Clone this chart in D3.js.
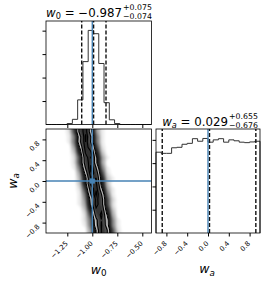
<!DOCTYPE html>
<html>
<head>
<meta charset="utf-8">
<script src="https://cdn.jsdelivr.net/npm/d3@7"></script>
<style>
  body { margin: 0; background: #fff; }
  svg { display: block; font-family: "DejaVu Sans", sans-serif; }
</style>
</head>
<body>
<svg id="chart" width="266" height="281"></svg>
<script>
// parameter ranges (sample extents)
const w0Range = [-1.463, -0.408];
const waRange = [-1.0, 1.0];

// 1D histograms, 20 bins each
const w0Counts = [0, 0, 0, 0, 20, 110, 525, 1340, 2005, 1935, 1300, 465, 100, 20, 0, 0, 0, 0, 0, 0];
const waCounts = [347, 342, 342, 366, 368, 381, 385, 405, 394, 406, 390, 400, 405, 390, 400, 396, 390, 388, 391, 394];
const w0HistTicks = [500, 1000, 1500, 2000];
const waHistTicks = [100, 200, 300, 400];

// 2D histogram: rows are wa bins from -1 upward, columns are w0 bins
const hist2d = [
  [0,0,0,0,0,0,0,0,9,61,141,107,26,2,0,0,0,0,0,0],
  [0,0,0,0,0,0,0,1,15,82,144,82,15,1,0,0,0,0,0,0],
  [0,0,0,0,0,0,0,2,17,86,140,80,14,1,0,0,0,0,0,0],
  [0,0,0,0,0,0,0,2,28,113,149,65,9,0,0,0,0,0,0,0],
  [0,0,0,0,0,0,0,5,44,135,135,44,5,0,0,0,0,0,0,0],
  [0,0,0,0,0,0,1,9,67,155,117,29,2,0,0,0,0,0,0,0],
  [0,0,0,0,0,0,1,12,72,152,118,27,3,0,0,0,0,0,0,0],
  [0,0,0,0,0,0,1,18,98,171,98,18,1,0,0,0,0,0,0,0],
  [0,0,0,0,0,0,2,30,121,160,70,10,1,0,0,0,0,0,0,0],
  [0,0,0,0,0,0,5,49,149,149,49,5,0,0,0,0,0,0,0,0],
  [0,0,0,0,0,0,6,50,140,141,47,5,1,0,0,0,0,0,0,0],
  [0,0,0,0,0,0,10,71,163,123,30,2,0,0,0,0,0,0,0,0],
  [0,0,0,0,0,1,18,98,171,98,18,1,0,0,0,0,0,0,0,0],
  [0,0,0,0,0,2,30,120,159,69,10,0,0,0,0,0,0,0,0,0],
  [0,0,0,0,0,2,28,125,165,68,11,1,0,0,0,0,0,0,0,0],
  [0,0,0,0,0,5,48,145,145,48,5,0,0,0,0,0,0,0,0,0],
  [0,0,0,0,0,10,69,159,120,30,2,0,0,0,0,0,0,0,0,0],
  [0,0,0,0,1,18,94,164,94,18,1,0,0,0,0,0,0,0,0,0],
  [0,0,0,0,1,16,90,168,97,18,1,0,0,0,0,0,0,0,0,0],
  [0,0,0,0,2,30,121,160,70,10,1,0,0,0,0,0,0,0,0,0]
];

// credible levels for the 2D contours (0.5, 1, 1.5, 2 sigma)
const levels = [0.118, 0.393, 0.675, 0.865];

const w0Quantiles = [-1.106, -0.987, -0.863];
const waQuantiles = [-0.88, 0.029, 0.92];
const truths = [-1.0, 0.0];

const w0Ticks = [-1.25, -1.0, -0.75, -0.5];
const waTicks = [-0.8, -0.4, 0.0, 0.4, 0.8];

const titleMedian = ["\u22120.987", "0.029"];
const titlePlus = ["+0.075", "+0.655"];
const titleMinus = ["\u22120.074", "\u22120.676"];

const truthColor = "#4682b4";
const tickFont = 6.8;

const svg = d3.select("#chart");

const x0 = d3.scaleLinear().domain(w0Range).range([46, 151.5]);
const xa = d3.scaleLinear().domain(waRange).range([156, 260]);
const ya = d3.scaleLinear().domain(waRange).range([233, 129]);
const yTop = d3.scaleLinear().domain([0, 1.1 * d3.max(w0Counts)]).range([124.5, 21]);
const yRight = d3.scaleLinear().domain([0, 1.1 * d3.max(waCounts)]).range([233, 129]);

const nb = w0Counts.length;
const w0Edges = d3.range(nb + 1).map(i => w0Range[0] + i * (w0Range[1] - w0Range[0]) / nb);
const waEdges = d3.range(nb + 1).map(i => waRange[0] + i * (waRange[1] - waRange[0]) / nb);

function stepPoints(edges, counts) {
    const n = counts.length;
    return [[edges[0], 0], ...counts.map((c, i) => [edges[i], c]), [edges[n], counts[n - 1]], [edges[n], 0]];
}

function drawHist(xs, ys, edges, counts, quantiles, truth, ticks) {
    const g = svg.append("g");
    const line = d3.line().x(d => xs(d[0])).y(d => ys(d[1])).curve(d3.curveStepAfter);
    g.append("path")
        .attr("d", line(stepPoints(edges, counts)))
        .attr("fill", "none")
        .attr("stroke", "#333")
        .attr("stroke-width", 1);

    g.selectAll(".q")
        .data(quantiles)
        .enter().append("line")
        .attr("x1", d => xs(d)).attr("x2", d => xs(d))
        .attr("y1", ys.range()[0]).attr("y2", ys.range()[1])
        .attr("stroke", "#111")
        .attr("stroke-width", 1.4)
        .attr("stroke-dasharray", "4,2");

    g.append("line")
        .attr("x1", xs(truth)).attr("x2", xs(truth))
        .attr("y1", ys.range()[0]).attr("y2", ys.range()[1])
        .attr("stroke", truthColor)
        .attr("stroke-width", 1.4);

    const yAx = g.append("g")
        .attr("transform", `translate(${xs.range()[0]},0)`)
        .call(d3.axisLeft(ys).tickValues(ticks).tickSize(3.5).tickFormat(""));
    yAx.select(".domain").remove();
}

// top-left: w0 marginal
drawHist(x0, yTop, w0Edges, w0Counts, w0Quantiles, truths[0], w0HistTicks);
const topX = svg.append("g")
    .attr("transform", "translate(0,124.5)")
    .call(d3.axisBottom(x0).tickValues(w0Ticks).tickSize(3.5).tickFormat(""));
topX.select(".domain").remove();

// bottom-right: wa marginal
drawHist(xa, yRight, waEdges, waCounts, waQuantiles, truths[1], waHistTicks);

// bottom-left: 2D histogram
const defs = svg.append("defs");
defs.append("clipPath").attr("id", "clip2d")
    .append("rect").attr("x", 46).attr("y", 129).attr("width", 105.5).attr("height", 104);
defs.append("filter").attr("id", "soft")
    .append("feGaussianBlur").attr("stdDeviation", 0.9);

const g2 = svg.append("g").attr("clip-path", "url(#clip2d)");

const rows = [hist2d[0], ...hist2d, hist2d[hist2d.length - 1]];
const flat = rows.flat();
const bw0 = (w0Range[1] - w0Range[0]) / nb;
const bwa = (waRange[1] - waRange[0]) / nb;
const proj = d3.geoTransform({
    point: function (x, y) {
        this.stream.point(x0(w0Range[0] + x * bw0), ya(waRange[0] + (y - 1) * bwa));
    }
});
const gpath = d3.geoPath(proj);
const contours = d3.contours().size([nb, rows.length]);

// contour levels as in corner
const sorted = hist2d.flat().slice().sort((a, b) => b - a);
const total = d3.sum(sorted);
let cum = 0;
const cumFrac = sorted.map(v => (cum += v) / total);
const V = levels.map(l => {
    let v = sorted[0];
    cumFrac.forEach((c, i) => { if (c <= l) v = sorted[i]; });
    return v;
}).sort((a, b) => a - b);
const Hmax = sorted[0];

// sample cloud
const cloudLevels = [0.4, 1.5, 4, 9, 18, 30];
const cloudAlpha = [0.07, 0.1, 0.17, 0.28, 0.45, 0.65];
const cloud = g2.append("g").attr("filter", "url(#soft)");
cloud.selectAll("path")
    .data(contours.thresholds(cloudLevels)(flat))
    .enter().append("path")
    .attr("d", gpath)
    .attr("fill", "#000")
    .attr("fill-opacity", (d, i) => cloudAlpha[i]);

// white base under outer contour
g2.append("path")
    .attr("d", gpath(contours.thresholds([V[0]])(flat)[0]))
    .attr("fill", "#fff");

// density shading inside the contours
const shadeLevels = d3.range(14).map(i => V[0] + (Hmax - V[0]) * i / 14);
g2.append("g").selectAll("path")
    .data(contours.thresholds(shadeLevels)(flat))
    .enter().append("path")
    .attr("d", gpath)
    .attr("fill", d => {
        const s = (d.value - V[0]) / (Hmax - V[0]);
        const v = Math.round(45 + 210 * Math.pow(1 - s, 3.2));
        return `rgb(${v},${v},${v})`;
    });

// contour lines
g2.selectAll(".cl")
    .data(contours.thresholds(V)(flat))
    .enter().append("path")
    .attr("d", gpath)
    .attr("fill", "none")
    .attr("stroke", "#000")
    .attr("stroke-width", 1.1);

// truths
g2.append("line")
    .attr("x1", x0(truths[0])).attr("x2", x0(truths[0]))
    .attr("y1", 129).attr("y2", 233)
    .attr("stroke", truthColor).attr("stroke-width", 1.4);
g2.append("line")
    .attr("x1", 46).attr("x2", 151.5)
    .attr("y1", ya(truths[1])).attr("y2", ya(truths[1]))
    .attr("stroke", truthColor).attr("stroke-width", 1.4);
g2.append("rect")
    .attr("x", x0(truths[0]) - 2.6).attr("y", ya(truths[1]) - 2.6)
    .attr("width", 5.2).attr("height", 5.2)
    .attr("fill", truthColor);

// frames
[[46, 21, 105.5, 103.5], [46, 129, 105.5, 104], [156, 129, 104, 104]].forEach(f => {
    svg.append("rect")
        .attr("x", f[0]).attr("y", f[1]).attr("width", f[2]).attr("height", f[3])
        .attr("fill", "none").attr("stroke", "#000").attr("stroke-width", 0.8);
});

// labelled axes
function bottomAxis(xs, ticks, fmt) {
    const ax = svg.append("g")
        .attr("transform", "translate(0,233)")
        .call(d3.axisBottom(xs).tickValues(ticks).tickSize(3.5).tickFormat(d3.format(fmt)));
    ax.select(".domain").remove();
    ax.selectAll("text")
        .attr("y", 0).attr("dy", null)
        .attr("transform", "translate(0.5,11) rotate(-45)")
        .style("text-anchor", "end")
        .attr("font-size", tickFont)
        .attr("font-family", "DejaVu Sans")
        .attr("fill", "#000");
}
bottomAxis(x0, w0Ticks, ".2f");
bottomAxis(xa, waTicks, ".1f");

const leftAx = svg.append("g")
    .attr("transform", "translate(46,0)")
    .call(d3.axisLeft(ya).tickValues(waTicks).tickSize(3.5).tickFormat(d3.format(".1f")));
leftAx.select(".domain").remove();
leftAx.selectAll("text")
    .attr("x", 0).attr("dy", null)
    .attr("transform", "translate(-6,4) rotate(-45)")
    .style("text-anchor", "end")
    .attr("font-size", tickFont)
    .attr("font-family", "DejaVu Sans")
    .attr("fill", "#000");

// axis labels
function mathLabel(x, y, sub, rotate, subItalic) {
    const t = svg.append("text")
        .attr("transform", `translate(${x},${y})` + (rotate ? " rotate(-90)" : ""))
        .attr("text-anchor", "middle")
        .attr("font-size", 12.5);
    t.append("tspan").attr("font-style", "italic").text("w");
    t.append("tspan").attr("font-size", 8.8).attr("dy", 2.5)
        .attr("font-style", subItalic ? "italic" : "normal").text(sub);
}
mathLabel(98.75, 273.5, "0", false, false);
mathLabel(207, 273, "a", false, true);
mathLabel(16.5, 181, "a", true, true);

// titles
function title(cx, baseline, sub, subItalic, i) {
    const g = svg.append("g");
    const main = g.append("text").attr("y", baseline).attr("font-size", 11.8);
    main.append("tspan").attr("font-style", "italic").text("w");
    main.append("tspan").attr("font-size", 8.2).attr("dy", 2.5)
        .attr("font-style", subItalic ? "italic" : "normal").text(sub);
    main.append("tspan").attr("dy", -2.5).text(" = " + titleMedian[i]);
    const mw = main.node().getComputedTextLength();
    const sup = g.append("text").attr("y", baseline - 7).attr("font-size", 7.8).text(titlePlus[i]);
    const sb = g.append("text").attr("y", baseline + 2.6).attr("font-size", 7.8).text(titleMinus[i]);
    const sw = Math.max(sup.node().getComputedTextLength(), sb.node().getComputedTextLength());
    const x = cx - (mw + 1 + sw) / 2;
    main.attr("x", x);
    sup.attr("x", x + mw + 1);
    sb.attr("x", x + mw + 1);
}
title(99, 16.7, "0", false, 0);
title(210, 125.5, "a", true, 1);
</script>
</body>
</html>
